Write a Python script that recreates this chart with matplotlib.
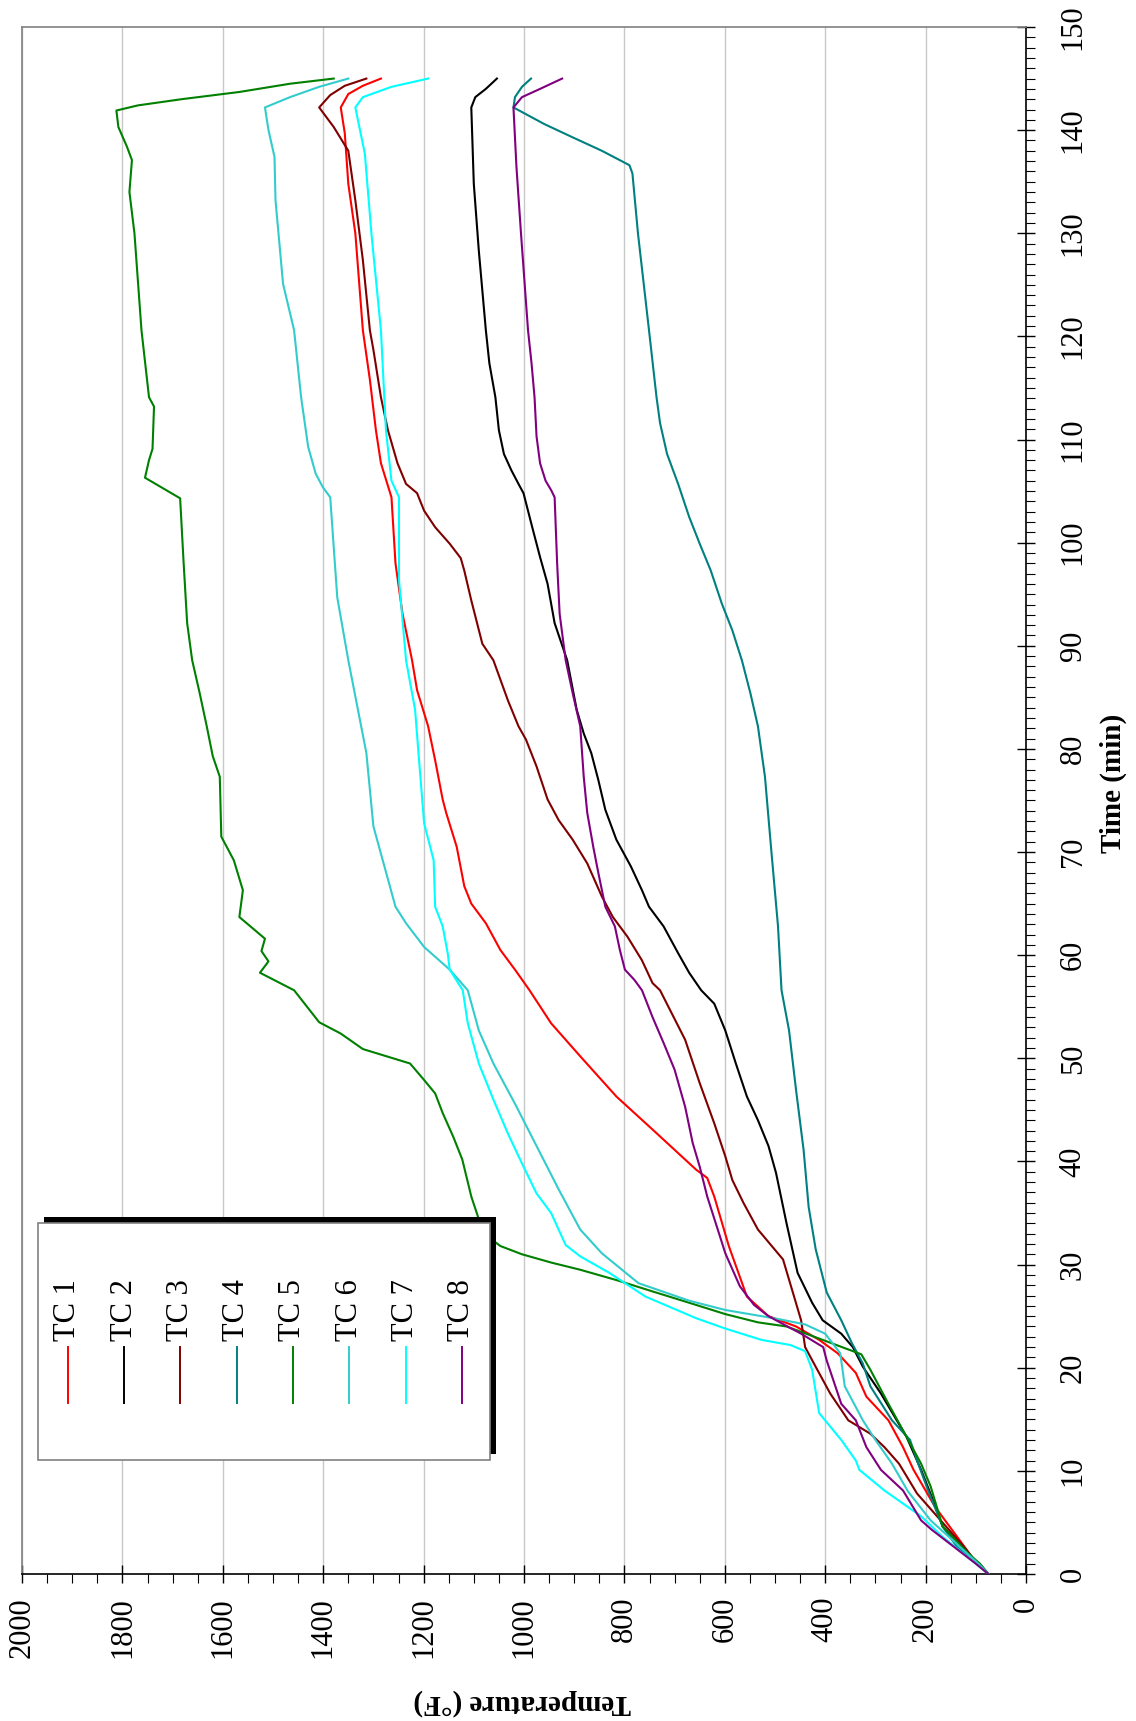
import matplotlib
matplotlib.use("Agg")
import matplotlib.pyplot as plt
from matplotlib.patches import Rectangle
from matplotlib.lines import Line2D
from matplotlib.ticker import MultipleLocator

plt.rcParams['font.family'] = ['Liberation Serif', 'DejaVu Serif']

# time (min) and temperature (F), one pair of lists per thermocouple
tc1_t = [0, 1, 3.6, 6.5, 10.1, 12.3, 14.9, 17.2, 19.5, 21.4, 22.7, 24, 25, 26.9, 31.8, 36.6, 38.4,
         39.2, 43.1, 46.3, 50.2, 53.4, 56.6, 58.6, 60.5, 63.1, 65, 66.7, 70.5, 73.8, 75.1, 78.9,
         82.2, 85.7, 88.6, 93.1, 98, 104.4, 107.7, 110.9, 115.8, 120.6, 130, 134.8, 139.7, 142.2,
         143.5, 144.3, 145]
tc1_T = [75, 98, 137, 181, 224, 245, 274, 318, 339, 375, 412, 458, 513, 556, 592, 621, 635,
         657, 744, 816, 888, 946, 989, 1018, 1047, 1076, 1105, 1119, 1134, 1155, 1162, 1177,
         1191, 1213, 1223, 1242, 1256, 1264, 1285, 1295, 1307, 1321, 1336, 1350, 1357, 1365,
         1350, 1321, 1285]

tc2_t = [0, 1, 4.6, 7.5, 10.1, 13.3, 17.5, 20.1, 22, 23.3, 24.6, 26.3, 29.2, 34, 38.9, 41.5, 44,
         46.3, 49.5, 52.7, 55.3, 56.6, 58.3, 60.2, 62.8, 64.7, 66.3, 68.6, 71.2, 74.1, 77, 79.6,
         81.5, 83.8, 88.6, 92.2, 96, 98.6, 101.2, 104.8, 105.7, 107, 108.6, 110.9, 114.1, 117.4,
         120.6, 128.3, 134.8, 142.2, 143.2, 144, 145]
tc2_T = [75, 95, 166, 188, 209, 238, 289, 325, 345, 368, 405, 426, 455, 477, 498, 513, 534,
         556, 578, 599, 621, 647, 671, 693, 722, 751, 765, 787, 816, 838, 852, 866,
         881, 895, 914, 939, 953, 968, 982, 1001, 1011, 1025, 1040, 1050, 1057, 1069,
         1076, 1090, 1100, 1105, 1097, 1076, 1054]

tc3_t = [0, 1, 2.6, 7.8, 10.7, 12.3, 13.6, 14.9, 17.5, 20.1, 22, 24.6, 26.9, 30.5, 33.4, 36, 38.2,
         40.5, 43.7, 47.6, 51.8, 56.6, 57.3, 59.5, 61.8, 63.7, 65.7, 68.9, 71.2, 73.1, 75.1, 78.3,
         80.9, 82.2, 84.7, 88.6, 90.2, 94.4, 97.3, 98.5, 99.9, 101.5, 103.1, 104.8, 105.7, 107.7,
         110.9, 114.1, 118.7, 120.6, 127.4, 133.2, 138, 140.3, 142.2, 143.4, 144.3, 145]
tc3_T = [75, 97, 123, 217, 253, 282, 310, 354, 390, 419, 440, 448, 462, 484, 534, 563, 585,
         599, 621, 650, 679, 729, 744, 765, 794, 823, 845, 874, 903, 931, 953, 975,
         996, 1011, 1032, 1061, 1083, 1105, 1119, 1126, 1148, 1177, 1199, 1213, 1235, 1252,
         1271, 1285, 1300, 1307, 1321, 1336, 1350, 1379, 1408, 1386, 1357, 1314]

tc4_t = [0, 1, 2.6, 4.6, 8.1, 11, 13, 14.9, 18.2, 20.4, 22.4, 24.6, 27.3, 31.5, 35.6, 41.1, 46.9,
         52.7, 56.6, 62.8, 70.5, 77.3, 82.2, 85.4, 88.6, 91.5, 94.1, 97.3, 99.9, 102.5, 105.7,
         108.6, 111.6, 114.1, 120.6, 130, 135.8, 136.6, 138, 139.3, 140.6, 142.2, 143.2, 144.2, 145]
tc4_T = [75, 92, 137, 166, 195, 217, 231, 267, 310, 325, 347, 368, 397, 419, 433, 443, 458,
         472, 487, 494, 508, 520, 534, 549, 566, 585, 606, 628, 650, 671, 693,
         715, 729, 736, 751, 773, 784, 790, 845, 903, 960, 1021, 1018, 1004, 986]

tc5_t = [0, 1, 2, 4.6, 8.5, 10.7, 13.3, 16.5, 19.8, 21.3, 22.7, 24, 24.4, 25.2, 26.3, 27.4, 28.5,
         29.5, 30.2, 31, 31.8, 32.6, 34.4, 36.6, 40.2, 42.4, 44.7, 46.6, 47.9, 49.5, 50.9, 52.4,
         53.5, 56.6, 58.3, 59.4, 60.4, 61.6, 63.7, 66.3, 69.2, 71.5, 77.3, 79.3, 82.2, 85.4, 88.6,
         92.2, 98, 104.3, 106.3, 108, 109.1, 113.2, 114.1, 120.6, 130, 134, 137.1, 138.4, 140.3,
         141.9, 142.4, 143, 143.7, 144.5, 145]
tc5_T = [75, 92, 115, 166, 190, 209, 238, 274, 310, 328, 405, 477, 534, 599, 671, 744, 816,
         888, 946, 1004, 1047, 1069, 1090, 1105, 1123, 1141, 1162, 1177, 1199, 1227, 1321, 1365,
         1408, 1458, 1526, 1509, 1523, 1516, 1567, 1560, 1578, 1603, 1606, 1620, 1632, 1646, 1661,
         1671, 1678, 1685, 1755, 1747, 1740, 1737, 1747, 1762, 1776, 1786, 1781, 1791, 1808,
         1812, 1769, 1682, 1567, 1466, 1379]

tc6_t = [0, 1, 3, 5.2, 8, 10.7, 13, 14.9, 18.2, 21.4, 23.3, 24.2, 24.7, 25.6, 26.5, 28.2, 31.1,
         33.4, 37.3, 41.5, 45.6, 49.5, 52.7, 56.6, 58.6, 60.8, 63.1, 64.7, 68.6, 72.5, 79.6, 83.1,
         88.6, 94.7, 104.4, 105.4, 106.7, 109.3, 114.1, 120.6, 125.1, 133.2, 137.4, 140, 142.2,
         143.2, 144.2, 145]
tc6_T = [75, 95, 140, 190, 235, 267, 300, 325, 361, 370, 400, 440, 491, 599, 671, 772, 845,
         888, 931, 975, 1018, 1061, 1090, 1112, 1148, 1199, 1235, 1256, 1278, 1300, 1314, 1328,
         1350, 1372, 1386, 1401, 1415, 1430, 1444, 1458, 1480, 1495, 1497, 1509, 1516,
         1466, 1408, 1350]

tc7_t = [0, 1, 3.6, 5.6, 8.1, 10.1, 11, 13, 15.6, 19.8, 21.6, 22.2, 22.7, 23.8, 24.8, 26.9, 29.2,
         30.8, 31.9, 35, 36.9, 39.8, 42.7, 46, 49.5, 53.4, 56.6, 58.6, 60.2, 62.8, 64.7, 69.2,
         72.8, 78.9, 83.8, 88.6, 96.4, 104.4, 106, 110.9, 120.6, 130, 137.7, 142.2, 143.2, 144.2, 145]
tc7_T = [75, 100, 166, 209, 282, 332, 339, 368, 412, 426, 440, 469, 527, 599, 657, 758, 830,
         888, 917, 946, 975, 1004, 1032, 1061, 1090, 1112, 1122, 1148, 1152, 1162, 1177, 1180,
         1199, 1209, 1217, 1235, 1249, 1249, 1264, 1275, 1285, 1304, 1317, 1336, 1321, 1264, 1191]

tc8_t = [0, 1, 4.3, 5.2, 8.1, 10.1, 12.3, 14.9, 16.5, 20.7, 22, 23.3, 24, 25, 26.1, 27.9, 31.1,
         33.4, 36.6, 39.5, 41.8, 45.3, 48.9, 51.5, 54, 56.6, 57.6, 58.6, 60.5, 62.8, 64.7, 68,
         70.5, 73.8, 77.3, 82.2, 85.4, 88.6, 93.1, 98, 104.4, 105.1, 106, 107.7, 110.3, 114.1,
         117.4, 120.6, 130, 136.4, 142.2, 143.2, 144, 145]
tc8_T = [75, 100, 188, 209, 245, 289, 318, 339, 368, 397, 404, 448, 475, 513, 542, 570, 599,
         614, 635, 650, 664, 679, 700, 722, 744, 765, 780, 799, 809, 819, 838, 852,
         862, 874, 881, 888, 903, 917, 929, 934, 939, 946, 957, 968, 975, 979,
         985, 992, 1006, 1015, 1021, 1004, 968, 924]

labels = ['TC 1', 'TC 2', 'TC 3', 'TC 4', 'TC 5', 'TC 6', 'TC 7', 'TC 8']
colors = ['#FF0000', '#000000', '#800000', '#008080', '#008000', '#33CCCC', '#00FFFF', '#800080']
series = [(tc1_t, tc1_T), (tc2_t, tc2_T), (tc3_t, tc3_T), (tc4_t, tc4_T),
          (tc5_t, tc5_T), (tc6_t, tc6_T), (tc7_t, tc7_T), (tc8_t, tc8_T)]

fig = plt.figure(figsize=(11.36, 17.21), dpi=100)
# the chart is turned a quarter turn: time runs up the right side, temperature right-to-left
ax = fig.add_axes([22 / 1136, 1 - 1574 / 1721, 1004 / 1136, 1547 / 1721])

for (t, T), c in zip(series, colors):
    ax.plot(T, t, color=c, lw=1.5, zorder=3)

ax.set_xlim(2000, 0)
ax.set_ylim(0, 150)
ax.xaxis.set_major_locator(MultipleLocator(200))
ax.xaxis.set_minor_locator(MultipleLocator(50))
ax.yaxis.set_major_locator(MultipleLocator(10))
ax.yaxis.set_minor_locator(MultipleLocator(1))
ax.yaxis.tick_right()
ax.grid(True, axis='x', which='major', color='#c8c8c8', lw=1.0)
ax.set_axisbelow(True)

ax.tick_params(which='major', direction='inout', length=13, width=1.0, color='black',
               labelsize=22)
ax.tick_params(which='minor', direction='out', length=6.5, width=0.8, color='black')
ax.tick_params(axis='x', labelrotation=90, pad=10)
ax.tick_params(axis='y', labelrotation=90, pad=17)
plt.setp(ax.get_yticklabels(), va='center')

for side in ['left', 'top']:
    ax.spines[side].set_color('#808080')
    ax.spines[side].set_linewidth(1.2)
for side in ['right', 'bottom']:
    ax.spines[side].set_color('black')
    ax.spines[side].set_linewidth(1.2)

# axis titles, turned with the chart
ax.text(1.087, 0.511, 'Time (min)', transform=ax.transAxes, rotation=90, ha='center',
        va='center', fontsize=21, fontweight='bold')
ax.text(0.498, -0.083, 'Temperature (°F)', transform=ax.transAxes, rotation=180, ha='center',
        va='center', fontsize=21, fontweight='bold')

# legend drawn by hand so that it turns with the chart
bx0, bx1, by0, by1 = 0.0159, 0.466, 0.0737, 0.2269
ax.add_patch(Rectangle((bx0 + 0.006, by0 + 0.004), bx1 - bx0, by1 - by0, transform=ax.transAxes,
                       facecolor='black', edgecolor='none', zorder=5, clip_on=False))
ax.add_patch(Rectangle((bx0, by0), bx1 - bx0, by1 - by0, transform=ax.transAxes,
                       facecolor='white', edgecolor='#808080', lw=1.2, zorder=6, clip_on=False))
for i, (lab, c) in enumerate(zip(labels, colors)):
    x = 0.0455 + 0.0561 * i
    ax.add_line(Line2D([x, x], [0.1105, 0.1467], transform=ax.transAxes, color=c, lw=1.4,
                       zorder=7))
    ax.text(x, 0.1506, lab, transform=ax.transAxes, rotation=90, ha='center', va='bottom',
            fontsize=22, zorder=7)

fig.savefig('out.png', dpi=100)
